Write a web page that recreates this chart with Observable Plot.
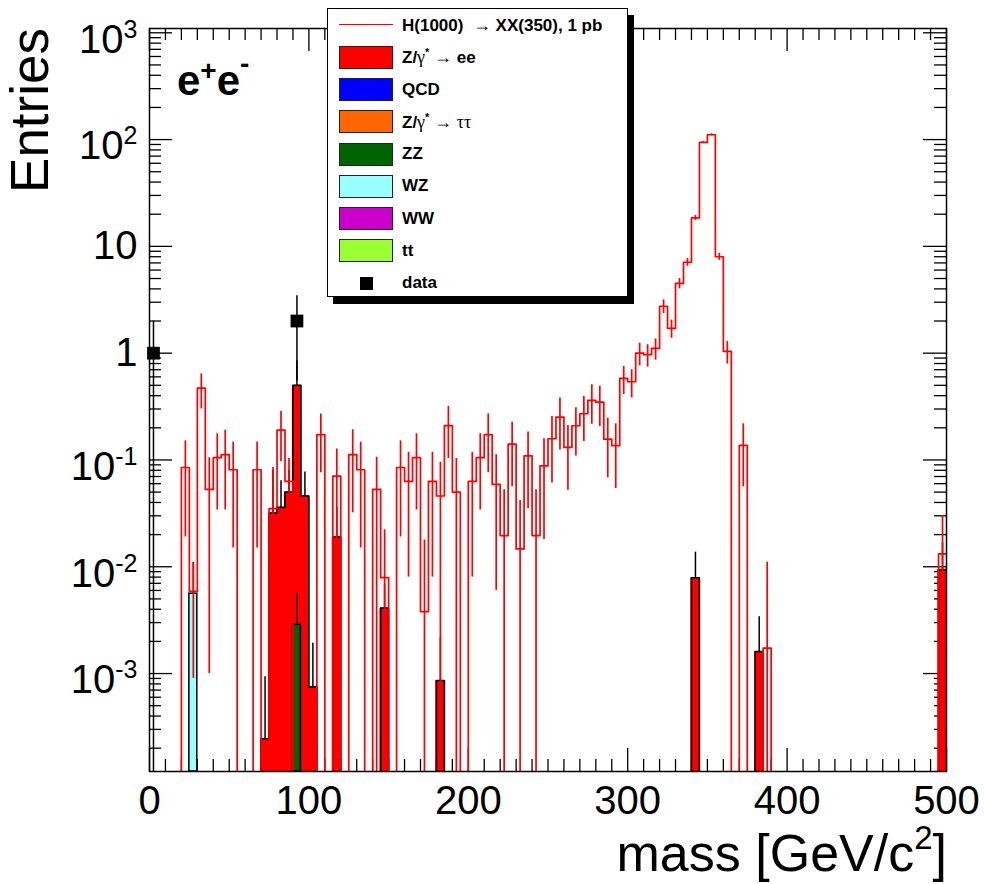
<!DOCTYPE html>
<html><head><meta charset="utf-8">
<script src="https://cdn.jsdelivr.net/npm/d3@7"></script>
<script src="https://cdn.jsdelivr.net/npm/@observablehq/plot@0.6"></script>
<style>
html,body{margin:0;padding:0;background:#fff;}
#wrap{position:relative;width:985px;height:884px;font-family:"Liberation Sans",Arial,Helvetica,sans-serif;}
#legend{position:absolute;left:327px;top:8px;width:301px;height:289px;border:1px solid #000;background:#fff;box-shadow:6px 7px 0 #000;box-sizing:border-box;}
#legend .lbl{position:absolute;left:74px;font-weight:bold;font-size:17px;white-space:nowrap;line-height:20px;color:#000;}
#legend .sym{font-family:"Liberation Serif","DejaVu Serif",serif;font-weight:normal;font-size:18px;}
#legend sup{font-size:11px;line-height:0;}
</style></head>
<body><div id="wrap"></div>
<script>
// ---------- data (5 GeV bins, 0..500 GeV) ----------
const binWidth = 5;
// signal H(1000) -> XX(350), per bin content (0 = empty)
const sigVal = [
  0, 0, 0, 0, 0.085, 0.0059, 0.47, 0.053, 0.105, 0.112,
  0.081, 0, 0, 0.081, 0, 0.035, 0.19, 0.063, 0, 0,
  0, 0.173, 0, 0.0706, 0, 0.112, 0.081, 0, 0.053, 0.0079,
  0, 0.085, 0.063, 0.105, 0.0038, 0.063, 0.046, 0.21, 0.050, 0,
  0.063, 0.105, 0.173, 0.059, 0.0196, 0.141, 0.0147, 0.109, 0.0196, 0.088,
  0.158, 0.252, 0.131, 0.209, 0.271, 0.361, 0.348, 0.157, 0.136, 0.58,
  0.54, 1.0, 0.97, 1.11, 2.75, 1.71, 4.5, 7.1, 18.5, 94,
  111, 8.0, 1.04, 0, 0.137, 0, 0, 0.00173, 0, 0,
  0, 0, 0, 0, 0, 0, 0, 0, 0, 0,
  0, 0, 0, 0, 0, 0, 0, 0, 0, 0.0132
];
const sigErr = [
  0, 0, 0, 0, 0.066, 0.005, 0.17, 0.052, 0.071, 0.078,
  0.066, 0, 0, 0.066, 0, 0.05, 0.094, 0.04, 0, 0,
  0, 0.097, 0, 0.056, 0, 0.08, 0.066, 0, 0.053, 0.0143,
  0, 0.066, 0.055, 0.071, 0.014, 0.055, 0.049, 0.107, 0.053, 0,
  0.055, 0.071, 0.097, 0.053, 0.033, 0.085, 0.027, 0.074, 0.033, 0.07,
  0.097, 0.128, 0.079, 0.10, 0.122, 0.145, 0.143, 0.089, 0.082, 0.17,
  0.16, 0.24, 0.23, 0.25, 0.4, 0.33, 0.5, 0.6, 1.0, 2.2,
  2.4, 0.6, 0.25, 0, 0.081, 0, 0, 0.0093, 0, 0,
  0, 0, 0, 0, 0, 0, 0, 0, 0, 0,
  0, 0, 0, 0, 0, 0, 0, 0, 0, 0.017
];
// stacked background: total (Z/gamma* -> ee on top)
const zeeLow = [70, 75, 80, 85, 90, 95, 100, 115, 145, 180, 340, 380, 495];
const zeeVal = [2.45e-4, 0.0318, 0.036, 0.050, 0.50, 0.046, 7.5e-4, 0.019, 0.0041, 8.6e-4, 0.0079, 0.00161, 0.0094];
const zeeErr = [6.9e-4, 0.048, 0.028, 0.030, 0.35, 0.031, 0.00117, 0.017, 0.0028, 0.0013, 0.0058, 0.0018, 0.0073];
const zzLow = [90], zzVal = [0.00286], zzErr = [0.0027];
const wzLow = [25], wzVal = [0.0056], wzErr = [0.0054];
// data
const dataLow = [0, 90], dataVal = [1, 2], dataErr = [1, 1.45];

// axes
const xTickVals = [0, 100, 200, 300, 400, 500];
const yTickVals = [1e-3, 1e-2, 1e-1, 1, 10, 100, 1000];
const yTickLabels = ["10^-3", "10^-2", "10^-1", "1", "10", "10^2", "10^3"];

// legend
const legendLabels = ["H(1000)  → XX(350), 1 pb", "Z/γ* → ee", "QCD", "Z/γ* → ττ", "ZZ", "WZ", "WW", "tt", "data"];
const legendKinds = ["line", "box", "box", "box", "box", "box", "box", "box", "marker"];
const legendColors = ["#ff0000", "#ff0000", "#0000ff", "#ff6600", "#006400", "#99ffff", "#cc00cc", "#99ff33", "#000000"];

// ---------- build ----------
const W = 985, H = 884, mL = 149, mR = 39, mT = 28, mB = 113;
const plotW = W - mL - mR, plotH = H - mT - mB;
const nBins = 100;
const yDomain = [1.21e-4, 1097];
const yFloor = yDomain[0] / 10;

function stepPoints(vals) {
  const pts = [];
  vals.forEach((v, i) => {
    const y = v > 0 ? v : yFloor;
    pts.push({x: i * binWidth, y}, {x: (i + 1) * binWidth, y});
  });
  return pts;
}
const sigPts = stepPoints(sigVal);
const sigBars = sigVal.map((v, i) => ({x: (i + 0.5) * binWidth, v, lo: Math.max(v - sigErr[i], yFloor), hi: v + sigErr[i]})).filter(d => d.v > 0);

function hist(low, val, err) {
  return low.map((l, i) => ({x1: l, x2: l + binWidth, xc: l + binWidth / 2, v: val[i], lo: Math.max(val[i] - err[i], yFloor), hi: val[i] + err[i]}));
}
const zee = hist(zeeLow, zeeVal, zeeErr);
const zz = hist(zzLow, zzVal, zzErr);
const wz = hist(wzLow, wzVal, wzErr);
const dat = hist(dataLow, dataVal, dataErr);

const stackTot = new Array(nBins).fill(0);
zeeLow.forEach((l, i) => { stackTot[Math.round(l / binWidth)] = zeeVal[i]; });
const stackPts = stepPoints(stackTot);

const yLabelOf = new Map(yTickVals.map((v, i) => [v, yTickLabels[i]]));
const xMinor = d3.range(10, 500, 10).filter(d => d % 100 !== 0);
const yMinor = [];
for (let e = -4; e <= 2; e++) for (let m = 2; m <= 9; m++) { const v = m * Math.pow(10, e); if (v > yDomain[0] && v < yDomain[1]) yMinor.push(v); }

const majL = 23, minL = 12;
const svg = Plot.plot({
  width: W, height: H,
  marginLeft: mL, marginRight: mR, marginTop: mT, marginBottom: mB,
  style: {fontFamily: '"Liberation Sans", Arial, Helvetica, sans-serif', fontSize: "40px", color: "#000", background: "#fff"},
  x: {domain: [0, 500]},
  y: {type: "log", domain: yDomain},
  marks: [
    // ticks (inward, all four sides)
    Plot.tickX(xTickVals, {x: d => d, insetTop: plotH - majL, stroke: "#000", strokeWidth: 1.3}),
    Plot.tickX(xMinor, {x: d => d, insetTop: plotH - minL, stroke: "#000", strokeWidth: 1.3}),
    Plot.tickX(xTickVals, {x: d => d, insetBottom: plotH - majL, stroke: "#000", strokeWidth: 1.3}),
    Plot.tickX(xMinor, {x: d => d, insetBottom: plotH - minL, stroke: "#000", strokeWidth: 1.3}),
    Plot.tickY(yTickVals, {y: d => d, insetRight: plotW - majL, stroke: "#000", strokeWidth: 1.3}),
    Plot.tickY(yMinor, {y: d => d, insetRight: plotW - minL, stroke: "#000", strokeWidth: 1.3}),
    Plot.tickY(yTickVals, {y: d => d, insetLeft: plotW - majL, stroke: "#000", strokeWidth: 1.3}),
    Plot.tickY(yMinor, {y: d => d, insetLeft: plotW - minL, stroke: "#000", strokeWidth: 1.3}),
    // background stack
    Plot.ruleX(zee, {x: "xc", y1: "lo", y2: "hi", stroke: "#000", strokeWidth: 1.5, clip: true}),
    Plot.rect(zee, {x1: "x1", x2: "x2", y1: yDomain[0], y2: "v", fill: "#ff0000", insetLeft: -0.6, insetRight: -0.6, clip: true}),
    Plot.line(stackPts, {x: "x", y: "y", stroke: "#000", strokeWidth: 1.6, clip: true}),
    Plot.ruleX(zz, {x: "xc", y1: "lo", y2: "hi", stroke: "#000", strokeWidth: 1.5, clip: true}),
    Plot.rect(zz, {x1: "x1", x2: "x2", y1: yDomain[0], y2: "v", fill: "#006400", stroke: "#000", strokeWidth: 1.5, clip: true}),
    Plot.ruleX(wz, {x: "xc", y1: "lo", y2: "hi", stroke: "#000", strokeWidth: 1.5, clip: true}),
    Plot.rect(wz, {x1: "x1", x2: "x2", y1: yDomain[0], y2: "v", fill: "#99ffff", stroke: "#000", strokeWidth: 1.5, clip: true}),
    // signal
    Plot.line(sigPts, {x: "x", y: "y", stroke: "#ff0000", strokeWidth: 1.7, clip: true}),
    Plot.ruleX(sigBars, {x: "x", y1: "lo", y2: "hi", stroke: "#ff0000", strokeWidth: 1.7, clip: true}),
    // data
    Plot.ruleX(dat, {x: "xc", y1: "lo", y2: "hi", stroke: "#000", strokeWidth: 1.5, clip: true}),
    Plot.dot(dat, {x: "xc", y: "v", symbol: "square", r: 7.2, fill: "#000", stroke: "none"}),
    Plot.frame({stroke: "#000", strokeWidth: 1.5}),
    Plot.axisX({ticks: xTickVals, tickSize: 0, tickPadding: 14, tickFormat: d => String(d), fontSize: 40}),
    Plot.axisY({ticks: yTickVals, tickSize: 0, tickPadding: 12, tickFormat: d => yLabelOf.get(d), fontSize: 40})
  ]
});

// superscripts in y tick labels
svg.querySelectorAll("text").forEach(t => {
  const s = t.textContent;
  if (s.includes("^")) {
    const [base, sup] = s.split("^");
    t.textContent = base;
    const ts = document.createElementNS("http://www.w3.org/2000/svg", "tspan");
    ts.setAttribute("dy", "-15");
    ts.setAttribute("font-size", "25");
    ts.textContent = sup;
    t.appendChild(ts);
    t.setAttribute("transform", (t.getAttribute("transform") || "") + " translate(0,7)");
  }
});

const s = d3.select(svg);
const ff = '"Liberation Sans", Arial, Helvetica, sans-serif';
// y title
s.append("text").attr("transform", "translate(48,28) rotate(-90)").attr("text-anchor", "end")
  .attr("font-family", ff).attr("font-size", 53).attr("fill", "#000").text("Entries");
// x title
const xt = s.append("text").attr("x", 947).attr("y", 871).attr("text-anchor", "end")
  .attr("font-family", ff).attr("font-size", 52).attr("fill", "#000");
xt.append("tspan").text("mass [GeV/c");
xt.append("tspan").attr("dy", -22).attr("font-size", 33).text("2");
xt.append("tspan").attr("dy", 22).text("]");
// channel label
const ch = s.append("text").attr("x", 177).attr("y", 95).attr("text-anchor", "start")
  .attr("font-family", ff).attr("font-weight", "bold").attr("font-size", 42).attr("fill", "#000");
ch.append("tspan").text("e");
ch.append("tspan").attr("dy", -15).attr("font-size", 28).text("+");
ch.append("tspan").attr("dy", 15).text("e");
ch.append("tspan").attr("dy", -22).attr("font-size", 28).text("-");

const wrap = document.getElementById("wrap");
wrap.appendChild(svg);

// legend
const leg = document.createElement("div");
leg.id = "legend";
let html = "";
legendLabels.forEach((lab, i) => {
  const cy = 16 + i * 32.25;
  const kind = legendKinds[i], col = legendColors[i];
  if (kind === "line") html += `<div style="position:absolute;left:11px;top:${cy - 1}px;width:54px;height:0;border-top:1.6px solid ${col}"></div>`;
  else if (kind === "box") html += `<div style="position:absolute;left:11px;top:${cy - 11.5}px;width:54px;height:23px;box-sizing:border-box;border:1px solid #222;background:${col}"></div>`;
  else html += `<div style="position:absolute;left:32px;top:${cy - 6.5}px;width:13px;height:13px;background:${col}"></div>`;
  const txt = lab.replace(/([γτ→])/g, '<span class="sym">$1</span>').replace(/\*/g, "<sup>*</sup>").replace(/  /g, "&nbsp; ");
  html += `<div class="lbl" style="top:${cy - 10}px">${txt}</div>`;
});
leg.innerHTML = html;
wrap.appendChild(leg);
</script>
</body></html>
